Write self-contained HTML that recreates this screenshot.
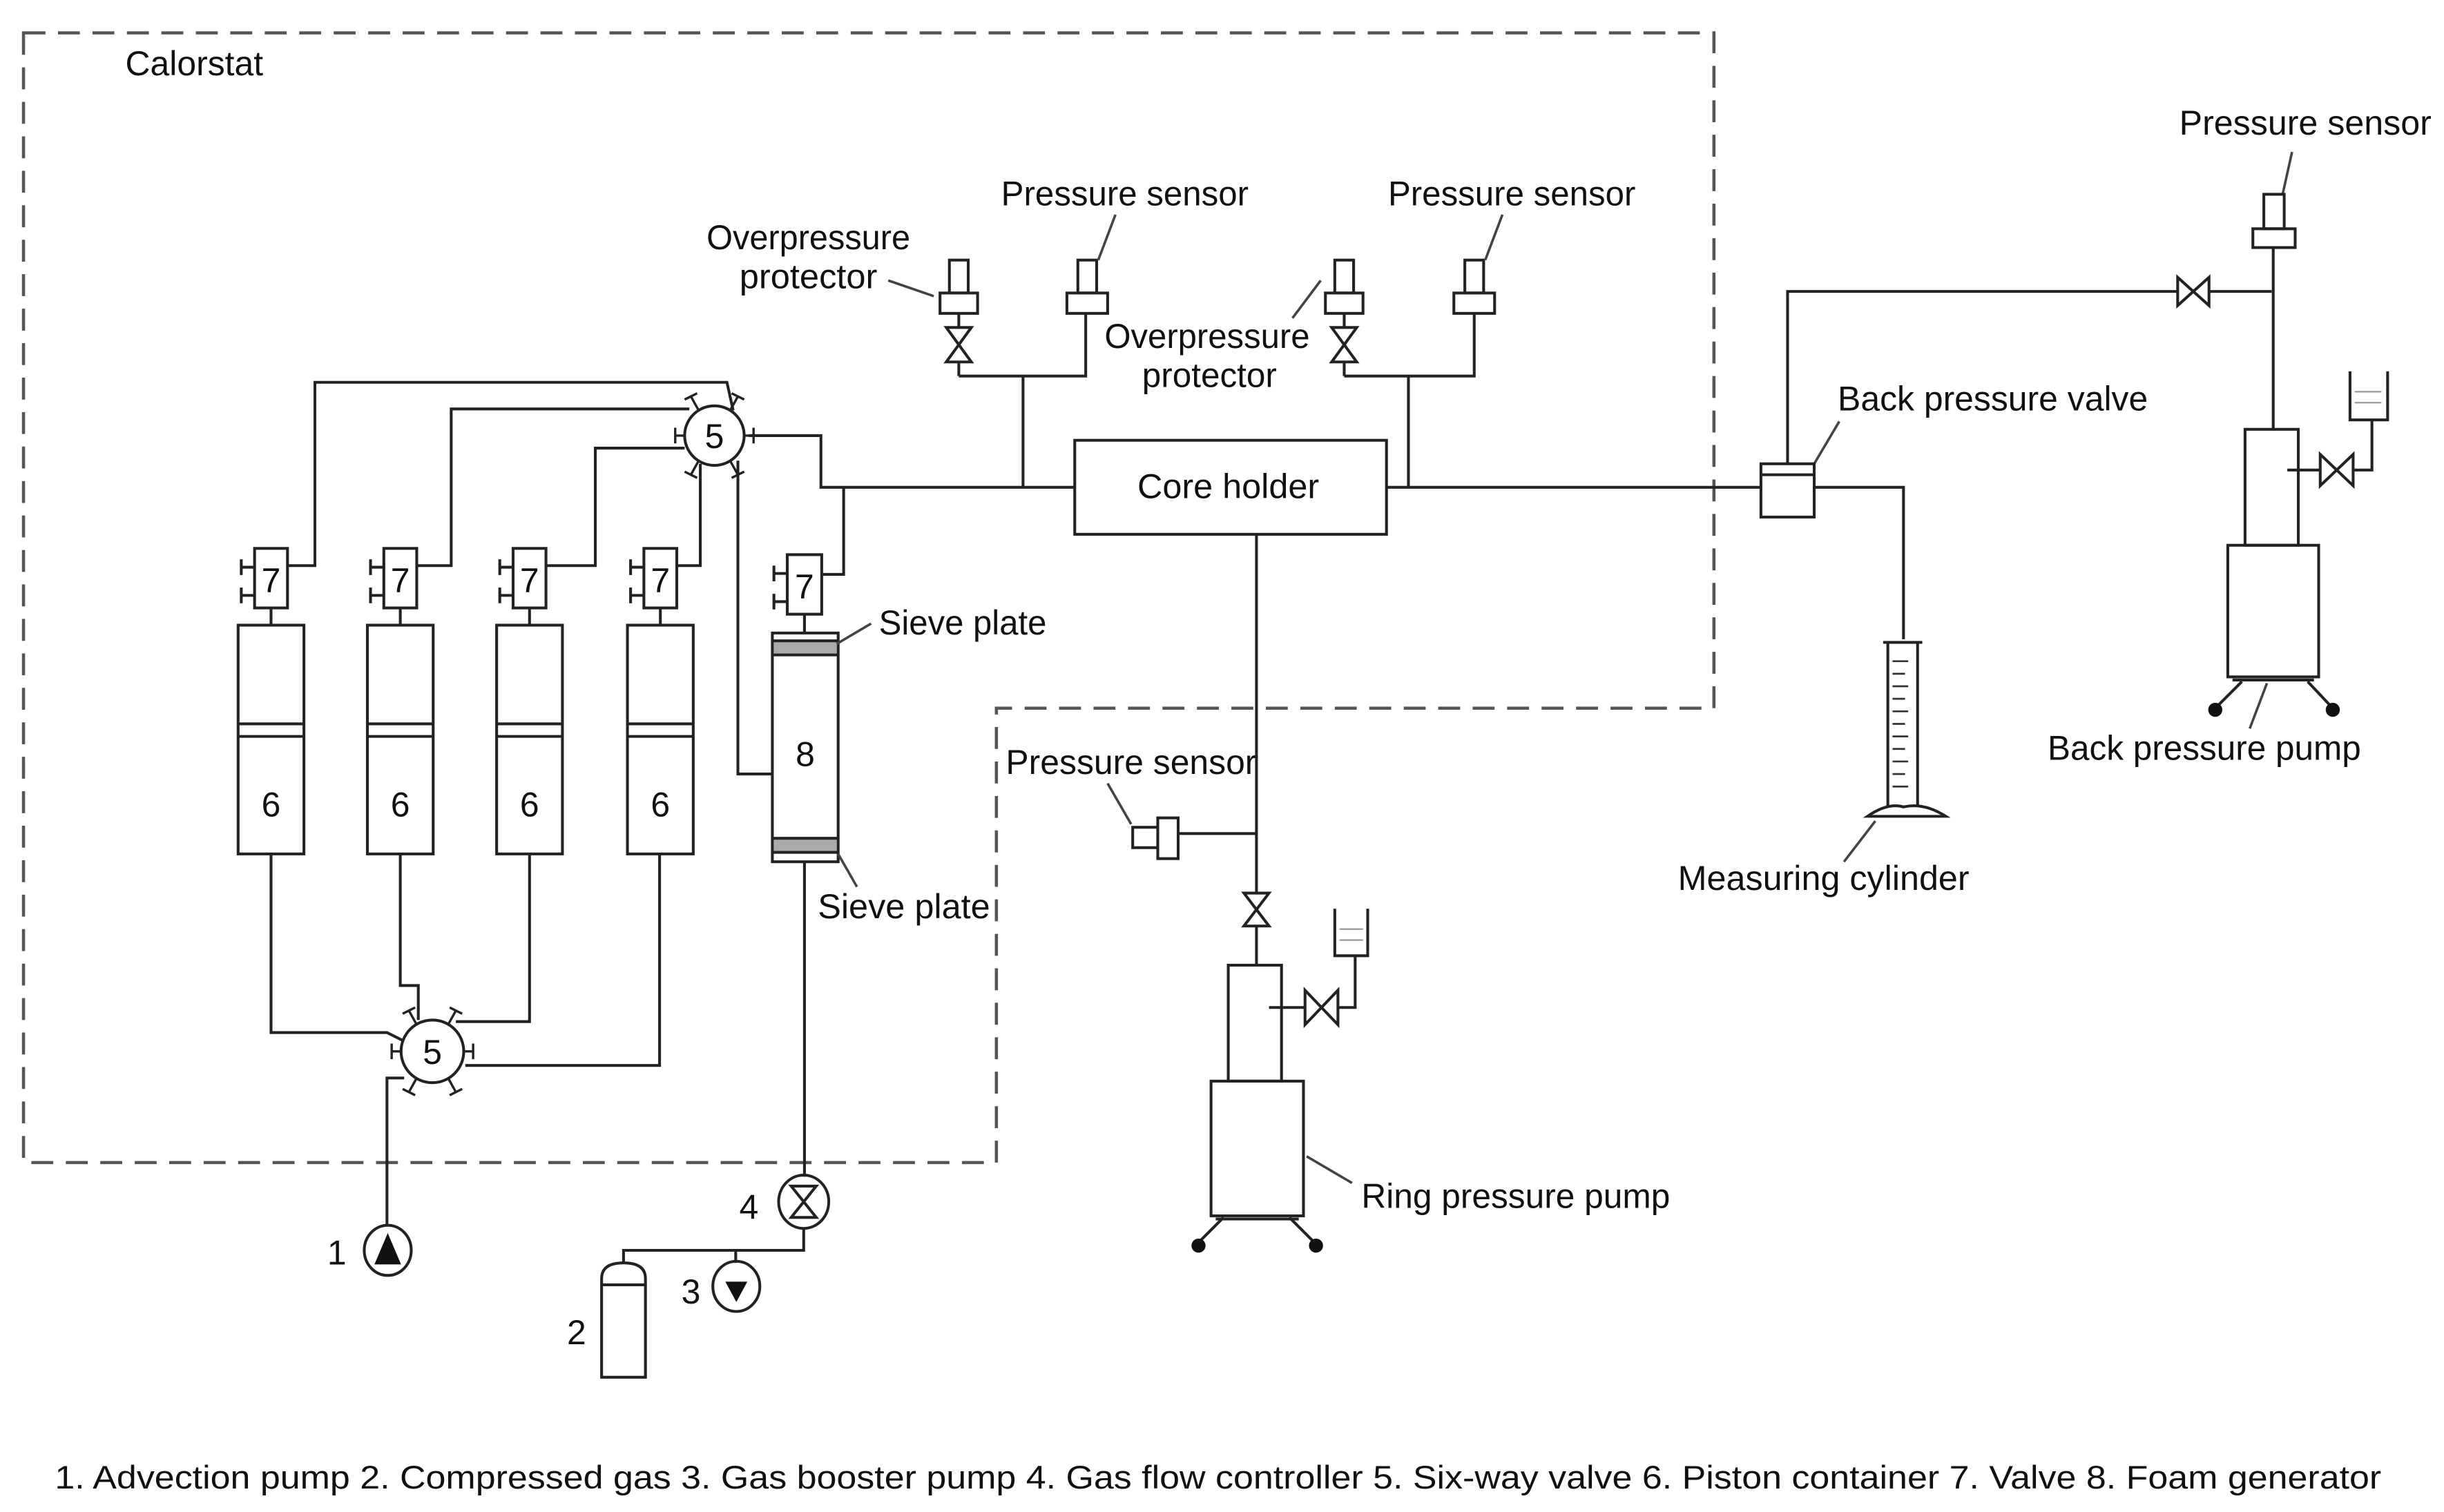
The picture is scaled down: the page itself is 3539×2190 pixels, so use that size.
<!DOCTYPE html>
<html><head><meta charset="utf-8"><style>
html,body{margin:0;padding:0;background:#fff;}
svg{display:block;}
text{font-family:"Liberation Sans",Arial,sans-serif;fill:#111;}
</style></head><body>
<svg width="3539" height="2190" viewBox="0 0 1560 965" preserveAspectRatio="none" xmlns="http://www.w3.org/2000/svg">
<rect width="1560" height="965" fill="#fff"/>
<!-- dashed calorstat -->
<g fill="none" stroke="#555" stroke-width="2" stroke-dasharray="14,8">
<path d="M15,21 H1094 V452 H636 V742 H15 Z"/>
</g>
<text x="80" y="48" font-size="22" textLength="88" lengthAdjust="spacingAndGlyphs">Calorstat</text>

<g fill="none" stroke="#222" stroke-width="1.8">
<!-- core holder -->
<rect x="686" y="281" width="199" height="60"/>
<!-- main line -->
<path d="M478,278 H524 V311 H686"/>
<path d="M885,311 H1124"/>
<path d="M1158,311 H1215 V408"/>
<path d="M538.5,311 V366.6 H525"/>
<!-- top six-way circle -->
<circle cx="456" cy="278" r="19"/>
<!-- lines to valves 7 -->
<path d="M183.5,361 H201 V244 H464 L468,262"/>
<path d="M266,361 H288 V261 H440"/>
<path d="M349,361 H380 V286 H437"/>
<path d="M432,361 H447 V296"/>
<path d="M471,294 V494 H493"/>
<!-- valve boxes -->
<rect x="162.5" y="350" width="21" height="38"/>
<rect x="245" y="350" width="21" height="38"/>
<rect x="327.5" y="350" width="21" height="38"/>
<rect x="411" y="350" width="21" height="38"/>
<rect x="502.5" y="354" width="22" height="38"/>
<!-- stubs -->
<path d="M162.5,362 H154 M154,357 V367 M162.5,380 H154 M154,375 V385"/>
<path d="M245,362 H236.5 M236.5,357 V367 M245,380 H236.5 M236.5,375 V385"/>
<path d="M327.5,362 H319 M319,357 V367 M327.5,380 H319 M319,375 V385"/>
<path d="M411,362 H402.5 M402.5,357 V367 M411,380 H402.5 M402.5,375 V385"/>
<path d="M502.5,366 H494 M494,361 V371 M502.5,384 H494 M494,379 V389"/>
<!-- valve to containers -->
<path d="M173,388 V399 M255.5,388 V399 M338,388 V399 M421.5,388 V399 M513.5,392 V404"/>
<!-- containers -->
<rect x="152" y="399" width="42" height="146"/>
<rect x="234.5" y="399" width="42" height="146"/>
<rect x="317" y="399" width="42" height="146"/>
<rect x="400.5" y="399" width="42" height="146"/>
<path d="M152,462 H194 M152,470 H194 M234.5,462 H276.5 M234.5,470 H276.5 M317,462 H359 M317,470 H359 M400.5,462 H442.5 M400.5,470 H442.5"/>
<!-- foam generator -->
<rect x="493" y="404" width="42" height="146"/>
</g>
<rect x="494" y="409" width="40" height="9" fill="#aaa"/>
<rect x="494" y="535" width="40" height="9" fill="#aaa"/>
<g fill="none" stroke="#222" stroke-width="1.8">
<path d="M493,409 H535 M493,418 H535 M493,535 H535 M493,544 H535"/>
<!-- bottom -->
<path d="M173,545 V659 H247 L257,664"/>
<path d="M255.5,545 V629 H267 V651"/>
<path d="M338,545 V652 H291"/>
<path d="M421,545 V680 H297"/>
<circle cx="276" cy="671" r="20"/>
<path d="M258,688 H247 V782"/>
<!-- pump 1 -->
<ellipse cx="247.5" cy="798" rx="15" ry="16"/>
<!-- foam gen down -->
<path d="M513.5,550 V751"/>
<ellipse cx="513" cy="767" rx="16" ry="17"/>
<path d="M505,757 H521 L505,777 H521 Z"/>
<path d="M513,784 V798 H398 V806"/>
<path d="M469.6,798 V806"/>
<ellipse cx="470" cy="821" rx="15" ry="16"/>
<!-- cylinder 2 -->
<path d="M384,879 V816 Q384,806 398,806 Q412,806 412,816 V879 Z"/>
<path d="M384,820 H412"/>
<!-- six-way ticks top -->
<g id="t"></g>
</g>
<polygon points="247.5,787 239,807 256,807" fill="#111"/>
<polygon points="463,818 477,818 470,831" fill="#111"/>
<!-- six way ticks -->
<g stroke="#222" stroke-width="1.5" fill="none">
<path d="M437,278 H431 M431,273 V283"/>
<path d="M475,278 H481 M481,273 V283"/>
<path d="M446,262 L441,253 M437,255 L445,251"/>
<path d="M466,262 L471,253 M467,251 L475,255"/>
<path d="M446,294 L441,303 M437,301 L445,305"/>
<path d="M466,294 L471,303 M467,305 L475,301"/>
<path d="M256,671 H250 M250,666 V676"/>
<path d="M296,671 H302 M302,666 V676"/>
<path d="M266,654 L261,645 M257,647 L265,643"/>
<path d="M286,654 L291,645 M287,643 L295,647"/>
<path d="M266,688 L261,697 M257,695 L265,699"/>
<path d="M286,688 L291,697 M287,699 L295,695"/>
</g>
<g font-size="22" text-anchor="middle">
<text x="456" y="286">5</text>
<text x="276" y="679">5</text>
<text x="173" y="521">6</text>
<text x="255.5" y="521">6</text>
<text x="338" y="521">6</text>
<text x="421.5" y="521">6</text>
<text x="514" y="489">8</text>
<text x="173" y="378">7</text>
<text x="255.5" y="378">7</text>
<text x="338" y="378">7</text>
<text x="421.5" y="378">7</text>
<text x="513.5" y="382">7</text>
<text x="215" y="807">1</text>
<text x="368" y="858">2</text>
<text x="441" y="832">3</text>
<text x="478" y="778">4</text>
</g>

<!-- top sensors -->
<g fill="none" stroke="#222" stroke-width="1.8">
<path d="M653,311 V240 M612,240 H693 V200"/>
<path d="M612,240 V231"/>
<path d="M604,209 H620 L604,231 H620 Z"/>
<path d="M612,209 V200"/>
<rect x="600" y="187" width="24" height="13"/>
<rect x="606" y="166" width="12" height="21"/>
<rect x="681" y="187" width="26" height="13"/>
<rect x="688" y="166" width="12" height="21"/>
<path d="M899,311 V240 M858,240 H941 V200"/>
<path d="M858,240 V231"/>
<path d="M850,209 H866 L850,231 H866 Z"/>
<path d="M858,209 V200"/>
<rect x="846" y="187" width="24" height="13"/>
<rect x="852" y="166" width="12" height="21"/>
<rect x="928" y="187" width="26" height="13"/>
<rect x="935" y="166" width="12" height="21"/>
</g>
<g stroke="#444" stroke-width="1.6" fill="none">
<path d="M567,179 L596,189"/>
<path d="M712,137 L701,166"/>
<path d="M825,203 L843,179"/>
<path d="M959,137 L948,166"/>
<path d="M534,411 L556,398"/>
<path d="M535,545 L547,566"/>
<path d="M707,500 L722,526"/>
<path d="M834,738 L863,755"/>
<path d="M1158,296 L1174,269"/>
<path d="M1197,524 L1177,550"/>
<path d="M1447,436 L1436,465"/>
<path d="M1463,97 L1457,124"/>
</g>
<g font-size="22">
<text x="639" y="131" textLength="158" lengthAdjust="spacingAndGlyphs">Pressure sensor</text>
<text x="886" y="131" textLength="158" lengthAdjust="spacingAndGlyphs">Pressure sensor</text>
<text x="451" y="159" textLength="130" lengthAdjust="spacingAndGlyphs">Overpressure</text>
<text x="472" y="184" textLength="88" lengthAdjust="spacingAndGlyphs">protector</text>
<text x="705" y="222" textLength="131" lengthAdjust="spacingAndGlyphs">Overpressure</text>
<text x="729" y="247" textLength="86" lengthAdjust="spacingAndGlyphs">protector</text>
<text x="784" y="318" text-anchor="middle" textLength="116" lengthAdjust="spacingAndGlyphs">Core holder</text>
<text x="561" y="405" textLength="107" lengthAdjust="spacingAndGlyphs">Sieve plate</text>
<text x="522" y="586" textLength="110" lengthAdjust="spacingAndGlyphs">Sieve plate</text>
<text x="642" y="494" textLength="160" lengthAdjust="spacingAndGlyphs">Pressure sensor</text>
<text x="869" y="771" textLength="197" lengthAdjust="spacingAndGlyphs">Ring pressure pump</text>
<text x="1173" y="262" textLength="198" lengthAdjust="spacingAndGlyphs">Back pressure valve</text>
<text x="1307" y="485" textLength="200" lengthAdjust="spacingAndGlyphs">Back pressure pump</text>
<text x="1071" y="568" textLength="186" lengthAdjust="spacingAndGlyphs">Measuring cylinder</text>
<text x="1391" y="86" textLength="161" lengthAdjust="spacingAndGlyphs">Pressure sensor</text>
</g>

<!-- ring pressure pump -->
<g fill="none" stroke="#222" stroke-width="1.8">
<path d="M802,341 V570 M802,591 V616"/>
<path d="M794,570 H810 L794,591 H810 Z"/>
<path d="M802,532 H752"/>
<rect x="739" y="522" width="13" height="26"/>
<rect x="723" y="528" width="16" height="13"/>
<rect x="784" y="616" width="34" height="74"/>
<rect x="773" y="690" width="59" height="86"/>
<path d="M776,778 H829"/>
<path d="M781,777 L765,793 M823,777 L839,793"/>
<path d="M810,643 H833 M854,643 H865 V610"/>
<path d="M833,632 L854,654 V632 L833,654 Z"/>
<path d="M852,580 V610 H873 V580"/>
</g>
<circle cx="765" cy="795" r="4.5" fill="#111"/>
<circle cx="840" cy="795" r="4.5" fill="#111"/>
<path d="M855,593 H870 M855,600 H870" stroke="#999" stroke-width="1"/>

<!-- back pressure side -->
<g fill="none" stroke="#222" stroke-width="1.8">
<rect x="1124" y="296" width="34" height="34"/>
<path d="M1124,303 H1158"/>
<path d="M1141,296 V186 H1390 M1410,186 H1450"/>
<path d="M1390,177 L1410,195 V177 L1390,195 Z"/>
<rect x="1445" y="124" width="13" height="22"/>
<rect x="1438" y="146" width="27" height="12"/>
<path d="M1451,158 V274"/>
<rect x="1433" y="274" width="34" height="74"/>
<rect x="1422" y="348" width="58" height="84"/>
<path d="M1425,434 H1477"/>
<path d="M1431,435 L1414,452 M1473,435 L1489,452"/>
<path d="M1460,300 H1481 M1502,300 H1514 V268"/>
<path d="M1481,290 L1502,310 V290 L1481,310 Z"/>
<path d="M1500,237 V268 H1524 V237"/>
<!-- measuring cylinder -->
<path d="M1205,410 V515 M1224,410 V515"/>
<path d="M1202,410 H1227"/>
<path d="M1192,521 Q1205,512 1215,515 Q1228,512 1242,521 Z"/>
</g>
<circle cx="1414" cy="453" r="4.5" fill="#111"/>
<circle cx="1489" cy="453" r="4.5" fill="#111"/>
<path d="M1503,250 H1520 M1503,257 H1520" stroke="#999" stroke-width="1"/>
<g stroke="#333" stroke-width="1.2">
<path d="M1208,422 H1218 M1208,430 H1216 M1208,438 H1218 M1208,446 H1216 M1208,454 H1218 M1208,462 H1216 M1208,470 H1218 M1208,478 H1216 M1208,486 H1218 M1208,494 H1216 M1208,502 H1218"/>
</g>

<!-- legend -->
<text x="35" y="950" font-size="21" textLength="1485" lengthAdjust="spacingAndGlyphs">1. Advection pump  2. Compressed gas  3. Gas booster pump  4. Gas flow controller  5. Six-way valve  6. Piston container  7. Valve  8. Foam generator</text>
</svg>
</body></html>
